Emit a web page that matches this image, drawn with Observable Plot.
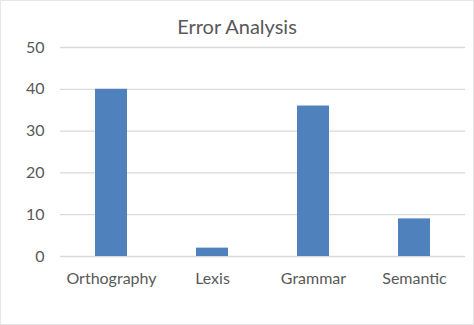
<!DOCTYPE html>
<html>
<head>
<meta charset="utf-8">
<script src="https://cdn.jsdelivr.net/npm/d3@7"></script>
<script src="https://cdn.jsdelivr.net/npm/@observablehq/plot@0.6"></script>
<style>
  html, body { margin: 0; padding: 0; background: #fff; }
  #wrap { width: 472px; height: 323px; border: 1px solid #e6e6e6; position: relative; overflow: hidden; background:#fff; }
  #title { height: 35px; line-height: 50px; text-align: center; font-family: Lato, "Open Sans", sans-serif; font-size: 20px; color: #595959; }
</style>
</head>
<body>
<div id="wrap">
  <div id="title">Error Analysis</div>
  <div id="chart"></div>
</div>
<script>
const categories = ["Orthography", "Lexis", "Grammar", "Semantic"];
const values = [40, 2, 36, 9];
const yTicks = [0, 10, 20, 30, 40, 50];

const data = categories.map((c, i) => ({category: c, value: values[i]}));

const chart = Plot.plot({
  width: 472,
  height: 288,
  marginTop: 11,
  marginLeft: 59,
  marginRight: 8,
  marginBottom: 68,
  style: {fontFamily: "Lato, 'Open Sans', sans-serif", fontSize: "16px", color: "#595959", background: "#fff"},
  x: {domain: categories, paddingInner: 0.68, paddingOuter: 0.34, label: null},
  y: {domain: [0, 50], ticks: yTicks, label: null},
  marks: [
    Plot.ruleY(yTicks, {stroke: "#d9d9d9", strokeWidth: 1.3}),
    Plot.barY(data, {x: "category", y: "value", fill: "#4f81bd"}),
    Plot.axisX({tickSize: 0, tickPadding: 16, label: null, fill: "#595959"}),
    Plot.axisY({ticks: yTicks, tickSize: 0, tickPadding: 16, label: null, fill: "#595959"})
  ]
});
document.getElementById("chart").appendChild(chart);
</script>
</body>
</html>
